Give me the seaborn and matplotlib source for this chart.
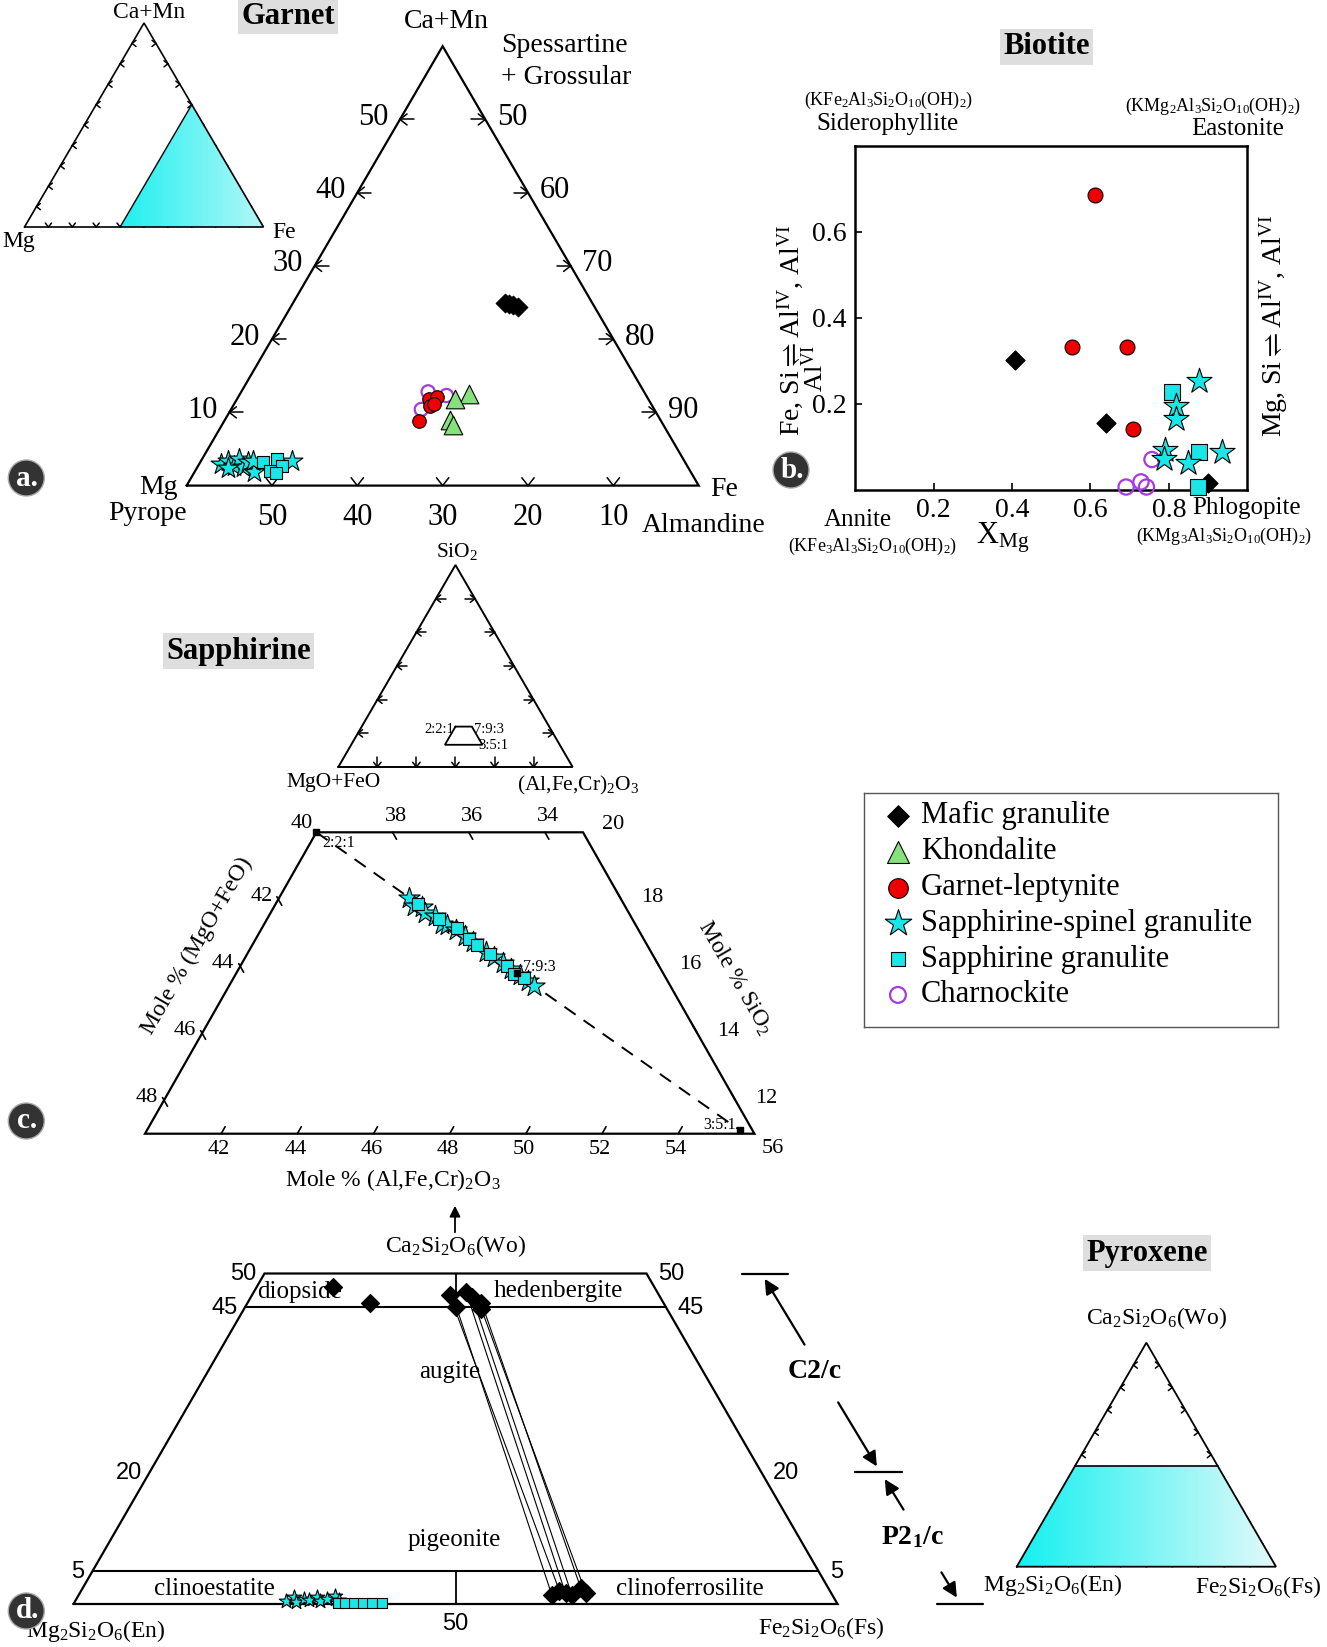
import numpy as np
import pandas as pd
import matplotlib
matplotlib.use("Agg")
import matplotlib.pyplot as plt
import seaborn as sns
from matplotlib.patches import Polygon, Circle
from matplotlib.colors import LinearSegmentedColormap

# ------------------------------------------------------------------ data
rocks = ["Mafic granulite", "Khondalite", "Garnet-leptynite",
         "Sapphirine-spinel granulite", "Sapphirine granulite", "Charnockite"]

# (a) garnet, mol %: (Mg, Fe, Ca+Mn)
grt_mafic = [(10.3, 64.8, 24.9), (9.8, 65.4, 24.8), (9.4, 66.0, 24.6), (9.0, 66.6, 24.4)]
grt_khond = [(20.7, 66.8, 12.5), (22.6, 65.6, 11.8), (24.6, 66.3, 9.0), (24.6, 67.1, 8.3)]
grt_lept = [(28.4, 62.8, 8.8), (25.7, 62.5, 11.8), (24.6, 63.3, 12.1),
            (26.0, 63.1, 10.9), (25.4, 63.4, 11.2)]
grt_sapspl = [(54.5, 42.6, 2.9), (53.5, 43.1, 3.4), (53.1, 44.2, 2.7), (52.1, 44.3, 3.6),
              (52.2, 45.3, 2.5), (51.2, 45.6, 3.2), (51.1, 47.0, 1.9), (50.5, 46.1, 3.4),
              (54.0, 43.6, 2.4), (45.9, 50.7, 3.4)]
grt_sapgr = [(49.4, 47.4, 3.2), (49.2, 48.8, 2.0), (47.6, 48.7, 3.7),
             (47.5, 49.8, 2.7), (48.7, 49.6, 1.7)]
grt_charn = [(25.3, 61.9, 12.8), (23.4, 64.3, 12.3), (27.3, 62.3, 10.4)]

# (b) biotite: (XMg, Fe,Si <-> AlIV,AlVI)
bt_mafic = [(0.407, 0.302), (0.640, 0.156), (0.899, 0.016)]
bt_lept = [(0.612, 0.687), (0.553, 0.332), (0.693, 0.331), (0.708, 0.142)]
bt_sapspl = [(0.878, 0.252), (0.818, 0.195), (0.818, 0.164), (0.791, 0.092),
             (0.788, 0.072), (0.849, 0.063), (0.936, 0.088)]
bt_sapgr = [(0.807, 0.227), (0.878, 0.088), (0.874, 0.006)]
bt_charn = [(0.757, 0.070), (0.691, 0.006), (0.729, 0.018), (0.743, 0.006)]

# (c) sapphirine, mol %: (MgO+FeO, (Al,Fe,Cr)2O3, SiO2)
spr_sapspl = [(38.54, 43.42, 18.04), (38.53, 43.66, 17.81), (38.33, 43.89, 17.78),
              (38.35, 44.05, 17.60), (38.13, 44.36, 17.51), (38.08, 44.67, 17.25),
              (37.94, 44.82, 17.24), (37.80, 45.13, 17.07), (37.66, 45.45, 16.89),
              (37.53, 45.76, 16.71), (37.34, 46.22, 16.44), (37.19, 46.54, 16.27),
              (37.06, 46.85, 16.09), (36.93, 47.16, 15.91), (36.80, 47.47, 15.73),
              (36.66, 47.78, 15.56), (36.57, 48.01, 15.42)]
spr_sapgr = [(38.40, 43.73, 17.87), (38.07, 44.51, 17.42), (37.74, 45.13, 17.13),
             (37.60, 45.60, 16.80), (37.47, 45.91, 16.62), (37.26, 46.38, 16.36),
             (37.00, 47.00, 16.00), (36.91, 47.31, 15.78), (36.74, 47.62, 15.64)]
spr_ratios = [(2, 2, 1), (7, 9, 3), (3, 5, 1)]
spr_ratio_labels = ["2:2:1", "7:9:3", "3:5:1"]

# (d) pyroxene, mol %: (En, Fs, Wo)
px_mafic = [(42.0, 10.0, 48.0), (38.5, 16.0, 45.5)]
px_mafic_cpx = [(27.4, 27.6, 45.0), (27.4, 25.9, 46.7), (25.0, 27.8, 47.2),
                (24.6, 29.0, 46.4), (23.8, 30.6, 45.6), (24.3, 31.1, 44.6)]
px_mafic_opx = [(36.7, 61.9, 1.4), (35.4, 62.6, 2.0), (34.8, 63.6, 1.6),
                (34.1, 64.6, 1.3), (32.4, 65.2, 2.4), (32.1, 66.2, 1.7)]
px_sapspl = [(72.0, 27.5, 0.5), (70.7, 28.3, 1.0), (70.7, 29.0, 0.3), (69.4, 29.8, 0.8),
             (68.9, 30.5, 0.6), (67.6, 31.3, 1.1), (67.6, 32.0, 0.4), (66.5, 32.8, 0.7),
             (65.2, 33.6, 1.2), (65.0, 34.4, 0.6)]
px_sapgr = [(65.3, 34.5, 0.2), (64.3, 35.5, 0.2), (63.2, 36.6, 0.2),
            (62.0, 37.8, 0.2), (60.8, 39.0, 0.2), (59.5, 40.3, 0.2)]

# ------------------------------------------------------------------ style
sns.set_style("white", {"axes.edgecolor": "black", "text.color": "black",
                        "xtick.color": "black", "ytick.color": "black"})
plt.rcParams["font.family"] = ["Liberation Serif", "DejaVu Serif"]
plt.rcParams["mathtext.fontset"] = "custom"
plt.rcParams["mathtext.rm"] = "Liberation Serif"
plt.rcParams["mathtext.it"] = "Liberation Serif:italic"
plt.rcParams["mathtext.bf"] = "Liberation Serif:bold"
plt.rcParams["mathtext.default"] = "regular"
plt.rcParams["mathtext.fallback"] = "stix"

CYAN = "#19e6e6"
style = {
    "Mafic granulite": dict(marker="D", color="black", edgecolor="black"),
    "Khondalite": dict(marker="^", color="#86e07c", edgecolor="black"),
    "Garnet-leptynite": dict(marker="o", color="#ee0000", edgecolor="black"),
    "Sapphirine-spinel granulite": dict(marker="*", color=CYAN, edgecolor="black"),
    "Sapphirine granulite": dict(marker="s", color=CYAN, edgecolor="black"),
    "Charnockite": dict(marker="o", facecolor="none", edgecolor="#a43be0"),
}

W, H = 1327, 1647
fig = plt.figure(figsize=(W / 100, H / 100), dpi=100)
canvas = fig.add_axes([0, 0, 1, 1])
canvas.set_xlim(0, W)
canvas.set_ylim(H, 0)
canvas.axis("off")


def panel(x0, y0, x1, y1, xlim, ylim, frame=False):
    ax = fig.add_axes([x0 / W, 1 - y1 / H, (x1 - x0) / W, (y1 - y0) / H])
    ax.set_xlim(*xlim)
    ax.set_ylim(*ylim)
    ax.patch.set_alpha(0)
    if not frame:
        ax.axis("off")
    return ax


def tern(pts):
    # (left, right, top) compositions -> cartesian (right + top/2, top)
    p = np.asarray(pts, dtype=float).reshape(-1, 3)
    p = 100 * p / p.sum(axis=1, keepdims=True)
    return p[:, 1] + p[:, 2] / 2, p[:, 2]


def to_px(ax, x, y):
    d = ax.transData.transform(np.column_stack([np.atleast_1d(x), np.atleast_1d(y)]))
    return d[:, 0], H - d[:, 1]


def tpx(ax, comp):
    x, y = tern([comp])
    px, py = to_px(ax, x, y)
    return px[0], py[0]


def text(x, y, s, size, **kw):
    kw.setdefault("ha", "center")
    kw.setdefault("va", "center")
    canvas.text(x, y, s, fontsize=size, **kw)


def scatter(ax, x, y, rock, s, lw=0.8):
    df = pd.DataFrame({"x": np.atleast_1d(x), "y": np.atleast_1d(y)})
    if rock == "Charnockite":
        lw = 1.6
    sns.scatterplot(data=df, x="x", y="y", s=s, linewidth=lw, ax=ax, legend=False,
                    clip_on=False, zorder=3, **style[rock])
    ax.set_xlabel("")
    ax.set_ylabel("")


def tscatter(ax, pts, rock, s):
    x, y = tern(pts)
    scatter(ax, x, y, rock, s)


def outline(ax, comps, lw=1.5, **kw):
    x, y = tern(comps)
    ax.plot(np.r_[x, x[0]], np.r_[y, y[0]], color="k", lw=lw, clip_on=False,
            solid_joinstyle="miter", **kw)


def arrow_tick(x, y, ux, uy, arm=8, stem=0, spread=38, lw=1.1):
    n = np.hypot(ux, uy)
    ux, uy = ux / n, uy / n
    for sgn in (-1, 1):
        a = np.deg2rad(sgn * spread)
        rx = ux * np.cos(a) - uy * np.sin(a)
        ry = ux * np.sin(a) + uy * np.cos(a)
        canvas.plot([x, x + arm * rx], [y, y + arm * ry], color="k", lw=lw)
    if stem:
        canvas.plot([x, x + stem * ux], [y, y + stem * uy], color="k", lw=lw)


def gradient_fill(ax, comps, c0, c1):
    x, y = tern(comps)
    lims = ax.get_xlim(), ax.get_ylim()
    cmap = LinearSegmentedColormap.from_list("g", [c0, c1])
    im = ax.imshow(np.linspace(0, 1, 256)[None, :], extent=(x.min(), x.max(), y.min(), y.max()),
                   cmap=cmap, aspect="auto", origin="lower", zorder=0)
    poly = Polygon(np.column_stack([x, y]), closed=True, transform=ax.transData,
                   facecolor="none", edgecolor="none")
    ax.add_patch(poly)
    im.set_clip_path(poly)
    ax.set_xlim(lims[0])
    ax.set_ylim(lims[1])


def title_box(x, y, s):
    text(x, y, s, 22, fontweight="bold",
         bbox=dict(facecolor="#dedede", edgecolor="none", pad=2.5))


def badge(x, y, s):
    canvas.add_patch(Circle((x, y), 18, facecolor="#333333", edgecolor="#aaaaaa", lw=1, zorder=5))
    text(x + 1, y, s, 21, color="white", fontweight="bold", zorder=6)


def small_ticks(ax, n, arm=5, stem=0):
    for k in range(1, n):
        v = 100 * k / n
        x, y = tpx(ax, (100 - v, 0, v))
        arrow_tick(x, y, 1, 0, arm=arm, stem=stem)
        x, y = tpx(ax, (0, 100 - v, v))
        arrow_tick(x, y, -1, 0, arm=arm, stem=stem)
        x, y = tpx(ax, (100 - v, v, 0))
        arrow_tick(x, y, 0, -1, arm=arm, stem=stem)


EQ = r"$\rightleftharpoons$"

# ------------------------------------------------------------------ (a) garnet
ax_gi = panel(24.5, 23, 263.5, 227, (0, 100), (0, 100))
gradient_fill(ax_gi, [(60, 40, 0), (0, 100, 0), (0, 40, 60)], "#1ef0f0", "#b4f7f7")
outline(ax_gi, [(100, 0, 0), (0, 100, 0), (0, 0, 100)], lw=1.2)
ax_gi.plot(*tern([(60, 40, 0), (0, 40, 60)]), color="k", lw=1.0)
small_ticks(ax_gi, 10, arm=5)
text(149, 13, "Ca+Mn", 17)
text(19, 242, "Mg", 17)
text(284, 233, "Fe", 17)

ax_g = panel(186.6, 46.2, 698.7, 485.6, (40, 100), (0, 60))
outline(ax_g, [(60, 40, 0), (0, 100, 0), (0, 40, 60)], lw=1.6)
for v in [10, 20, 30, 40, 50]:
    x, y = tpx(ax_g, (60 - v, 40, v))
    arrow_tick(x, y, 1, 0, arm=9, stem=14)
    text(x - 27, y - 2, str(v), 22)
    x, y = tpx(ax_g, (0, 100 - v, v))
    arrow_tick(x, y, -1, 0, arm=9, stem=14)
    text(x + 27, y - 2, str(100 - v), 22)
    x, y = tpx(ax_g, (v, 100 - v, 0))
    arrow_tick(x, y, 0, -1, arm=10)
    text(x, y + 32, str(v), 22)
tscatter(ax_g, grt_mafic, "Mafic granulite", 90)
tscatter(ax_g, grt_charn, "Charnockite", 90)
tscatter(ax_g, grt_khond, "Khondalite", 180)
tscatter(ax_g, grt_lept, "Garnet-leptynite", 95)
tscatter(ax_g, grt_sapspl, "Sapphirine-spinel granulite", 250)
tscatter(ax_g, grt_sapgr, "Sapphirine granulite", 85)
text(446.5, 21, "Ca+Mn", 20)
text(501, 46, "Spessartine", 20, ha="left")
text(501, 77, "+ Grossular", 20, ha="left")
text(178, 487, "Mg", 20, ha="right")
text(148, 514, "Pyrope", 20)
text(710, 490, "Fe", 20, ha="left")
text(704, 525, "Almandine", 20)
title_box(288, 16, "Garnet")
badge(26.3, 478, "a.")

# ------------------------------------------------------------------ (b) biotite
ax_b = panel(855.3, 146, 1247.2, 489.6, (0, 1), (0, 0.8), frame=True)
for sp in ax_b.spines.values():
    sp.set_linewidth(1.8)
    sp.set_color("black")
ax_b.set_xticks([0.2, 0.4, 0.6, 0.8])
ax_b.set_yticks([0.2, 0.4, 0.6])
ax_b.tick_params(direction="in", length=5, width=1.2, labelsize=20, pad=6,
                 bottom=True, left=True)
scatter(ax_b, *zip(*bt_charn), "Charnockite", 120)
scatter(ax_b, *zip(*bt_mafic), "Mafic granulite", 95)
scatter(ax_b, *zip(*bt_lept), "Garnet-leptynite", 115)
scatter(ax_b, *zip(*bt_sapgr), "Sapphirine granulite", 120)
scatter(ax_b, *zip(*bt_sapspl), "Sapphirine-spinel granulite", 360)
title_box(1046.5, 47, "Biotite")
text(889, 100, "(KFe$_2$Al$_3$Si$_2$O$_{10}$(OH)$_2$)", 13)
text(888, 124, "Siderophyllite", 18)
text(1213.5, 106, "(KMg$_2$Al$_3$Si$_2$O$_{10}$(OH)$_2$)", 13)
text(1238, 129, "Eastonite", 18)
text(858, 520, "Annite", 18)
text(873, 546, "(KFe$_3$Al$_3$Si$_2$O$_{10}$(OH)$_2$)", 13)
text(1003, 538, "X$_{Mg}$", 22)
text(1247, 508, "Phlogopite", 18)
text(1224, 536, "(KMg$_3$Al$_3$Si$_2$O$_{10}$(OH)$_2$)", 13)
text(790, 330, "Fe, Si" + EQ + "Al$^{IV}$, Al$^{VI}$", 20, rotation=90)
text(815, 368, "Al$^{VI}$", 19, rotation=90)
text(1274, 326, "Mg, Si" + EQ + "Al$^{IV}$, Al$^{VI}$", 20, rotation=90)
badge(791, 470, "b.")

# ------------------------------------------------------------------ legend
ax_l = panel(864, 793, 1278, 1027, (0, 1), (1, 0), frame=True)
ax_l.set_xticks([])
ax_l.set_yticks([])
for sp in ax_l.spines.values():
    sp.set_linewidth(1.0)
    sp.set_color("#555555")
leg_rows = np.linspace(0.098, 0.863, len(rocks))
leg_sizes = [120, 250, 200, 400, 110, 130]
for rock, yy, s in zip(rocks, leg_rows, leg_sizes):
    scatter(ax_l, [0.082], [yy], rock, s)
    ax_l.text(0.138, yy, rock, fontsize=22, va="center", ha="left", transform=ax_l.transData)
ax_l.set_xlim(0, 1)
ax_l.set_ylim(1, 0)

# ------------------------------------------------------------------ (c) sapphirine
ax_si = panel(338.3, 565, 572.6, 767, (0, 100), (0, 100))
outline(ax_si, [(100, 0, 0), (0, 100, 0), (0, 0, 100)], lw=1.4)
small_ticks(ax_si, 6, arm=6, stem=10)
spr_box = [(40, 40, 20), (33, 47, 20), (33, 56, 11), (49, 40, 11)]
outline(ax_si, spr_box, lw=1.3)
text(457, 551, "SiO$_2$", 15.5)
text(334, 783, "MgO+FeO", 15.5)
text(578, 785, "(Al,Fe,Cr)$_2$O$_3$", 15.5)
bx = [tpx(ax_si, c) for c in spr_box]
text(bx[0][0] - 1, bx[0][1] + 3, "2:2:1", 10.5, ha="right")
text(bx[1][0] + 2, bx[1][1] + 3, "7:9:3", 10.5, ha="left")
text(bx[2][0] - 4, bx[2][1] + 1, "3:5:1", 10.5, ha="left")

ax_s = panel(145, 832.3, 754.4, 1133.7, (45.5, 61.5), (11, 20))
outline(ax_s, spr_box, lw=1.6)
rx, ry = tern(spr_ratios)
ax_s.plot([rx[0], rx[-1]], [ry[0], ry[-1]], color="k", lw=1.4, dashes=(7, 5))
ax_s.scatter(rx, ry, marker="s", s=18, color="k", zorder=4, clip_on=False)
tscatter(ax_s, spr_sapspl, "Sapphirine-spinel granulite", 260)
tscatter(ax_s, spr_sapgr, "Sapphirine granulite", 65)
p0 = to_px(ax_s, rx, ry)
text(p0[0][0] + 6, p0[1][0] + 11, spr_ratio_labels[0], 11.5, ha="left")
text(p0[0][1] + 6, p0[1][1] - 6, spr_ratio_labels[1], 11.5, ha="left")
text(p0[0][2] - 4, p0[1][2] - 5, spr_ratio_labels[2], 11.5, ha="right")


def seg_tick(ax, comp, dcomp, a, b):
    x0, y0 = tpx(ax, comp)
    x1, y1 = tpx(ax, tuple(np.add(comp, dcomp)))
    ux, uy = x1 - x0, y1 - y0
    n = np.hypot(ux, uy)
    ux, uy = ux / n, uy / n
    canvas.plot([x0 + a * ux, x0 + b * ux], [y0 + a * uy, y0 + b * uy], color="k", lw=1.2)
    return x0, y0


for m in [38, 36, 34]:
    x, y = seg_tick(ax_s, (m, 80 - m, 20), (0, 1, -1), 0, 8)
    text(x + 3, y - 16, str(m), 16)
x, y = tpx(ax_s, (40, 40, 20))
text(x - 15, y - 9, "40", 16)
x, y = tpx(ax_s, (33, 47, 20))
text(x + 30, y - 8, "20", 16)
for m in [42, 44, 46, 48]:
    x, y = seg_tick(ax_s, (m, 40, 60 - m), (0, 1, -1), -3, 7)
    text(x - 17, y - 3, str(m), 16)
for s_ in [18, 16, 14, 12]:
    # constant-SiO2 direction is horizontal, towards the interior
    x, y = seg_tick(ax_s, (33, 67 - s_, s_), (0, -1, 1), 0, 9)
    text(x + 20, y - 2, str(s_), 16, ha="left")
for a in [42, 44, 46, 48, 50, 52, 54, 56]:
    if a < 56:
        x, y = seg_tick(ax_s, (89 - a, a, 11), (-1, 0, 1), 0, 8)
        text(x - 2, y + 16, str(a), 16)
    else:
        x, y = tpx(ax_s, (89 - a, a, 11))
        text(x + 18, y + 15, str(a), 16)
text(393, 1180, "Mole % (Al,Fe,Cr)$_2$O$_3$", 17)
text(197, 946, "Mole % (MgO+FeO)", 17, rotation=60)
text(735, 977, "Mole % SiO$_2$", 17, rotation=-60)
title_box(238.5, 651, "Sapphirine")
badge(26.3, 1121, "c.")

# ------------------------------------------------------------------ (d) pyroxene
ax_p = panel(73.5, 1273.5, 837.5, 1604, (0, 100), (0, 50))
outline(ax_p, [(100, 0, 0), (0, 100, 0), (0, 50, 50), (50, 0, 50)], lw=1.6)
for wo in [45, 5]:
    ax_p.plot(*tern([(100 - wo, 0, wo), (0, 100 - wo, wo)]), color="k", lw=1.5)
ax_p.plot(*tern([(25, 25, 50), (27.5, 27.5, 45)]), color="k", lw=1.3)
ax_p.plot(*tern([(50, 50, 0), (47.5, 47.5, 5)]), color="k", lw=1.3)
for cpx, opx in zip(px_mafic_cpx, px_mafic_opx):
    ax_p.plot(*tern([cpx, opx]), color="k", lw=0.8)
tscatter(ax_p, px_mafic, "Mafic granulite", 85)
tscatter(ax_p, px_mafic_cpx, "Mafic granulite", 85)
tscatter(ax_p, px_mafic_opx, "Mafic granulite", 85)
tscatter(ax_p, px_sapspl, "Sapphirine-spinel granulite", 120)
tscatter(ax_p, px_sapgr, "Sapphirine granulite", 55)
sans = ["Liberation Sans", "DejaVu Sans"]
for wo in [50, 45, 20, 5]:
    x, y = tpx(ax_p, (100 - wo, 0, wo))
    text(x - 8, y + 1, str(wo), 17, ha="right", family=sans)
    x, y = tpx(ax_p, (0, 100 - wo, wo))
    text(x + 12, y + 1, str(wo), 17, ha="left", family=sans)
x, y = tpx(ax_p, (50, 50, 0))
text(x, y + 20, "50", 17, family=sans)
text(299.5, 1292, "diopside", 18)
text(558, 1291, "hedenbergite", 18)
text(449.7, 1372, "augite", 18)
text(454, 1540, "pigeonite", 18)
text(214, 1589, "clinoestatite", 18)
text(690, 1589, "clinoferrosilite", 18)
text(455, 1246, "Ca$_2$Si$_2$O$_6$(Wo)", 17)
canvas.annotate("", xy=(455, 1203), xytext=(455, 1235),
                arrowprops=dict(arrowstyle="-|>", color="k", lw=1.3, mutation_scale=16))
text(96, 1631, "Mg$_2$Si$_2$O$_6$(En)", 17)
text(821.6, 1628, "Fe$_2$Si$_2$O$_6$(Fs)", 17)
badge(26.3, 1611, "d.")

# space-group brackets at the Wo = 50, 20, 0 levels
ylev = [tpx(ax_p, (50 - w / 2, 50 - w / 2, w))[1] for w in (50, 20, 0)]
canvas.plot([741.7, 788.3], [ylev[0], ylev[0]], color="k", lw=1.6)
canvas.plot([855, 901.7], [ylev[1], ylev[1]], color="k", lw=1.6)
canvas.plot([937, 983.3], [ylev[2], ylev[2]], color="k", lw=1.6)
arrow_kw = dict(arrowstyle="-|>", color="k", lw=1.6, mutation_scale=22)
canvas.annotate("", xy=(763.3, ylev[0] + 3), xytext=(806, 1347), arrowprops=arrow_kw)
canvas.annotate("", xy=(878.3, ylev[1] - 3), xytext=(836.7, 1400), arrowprops=arrow_kw)
canvas.annotate("", xy=(883.3, ylev[1] + 5), xytext=(905, 1512), arrowprops=arrow_kw)
canvas.annotate("", xy=(958.3, ylev[2] - 4), xytext=(940, 1570), arrowprops=arrow_kw)
text(815, 1372, "C2/c", 20, fontweight="bold")
text(912, 1537, "P2$_1$/c", 20, fontweight="bold")

ax_pi = panel(1016.7, 1342.7, 1276, 1566.7, (0, 100), (0, 100))
gradient_fill(ax_pi, [(100, 0, 0), (0, 100, 0), (0, 55, 45), (55, 0, 45)], "#14f0f0", "#e4fafa")
outline(ax_pi, [(100, 0, 0), (0, 100, 0), (0, 0, 100)], lw=1.3)
ax_pi.plot(*tern([(55, 0, 45), (0, 55, 45)]), color="k", lw=1.2)
small_ticks(ax_pi, 10, arm=5)
title_box(1146.7, 1253, "Pyroxene")
text(1156.7, 1318, "Ca$_2$Si$_2$O$_6$(Wo)", 17)
text(1053, 1585, "Mg$_2$Si$_2$O$_6$(En)", 17)
text(1258, 1587, "Fe$_2$Si$_2$O$_6$(Fs)", 17)

fig.savefig("out.png", dpi=100)
